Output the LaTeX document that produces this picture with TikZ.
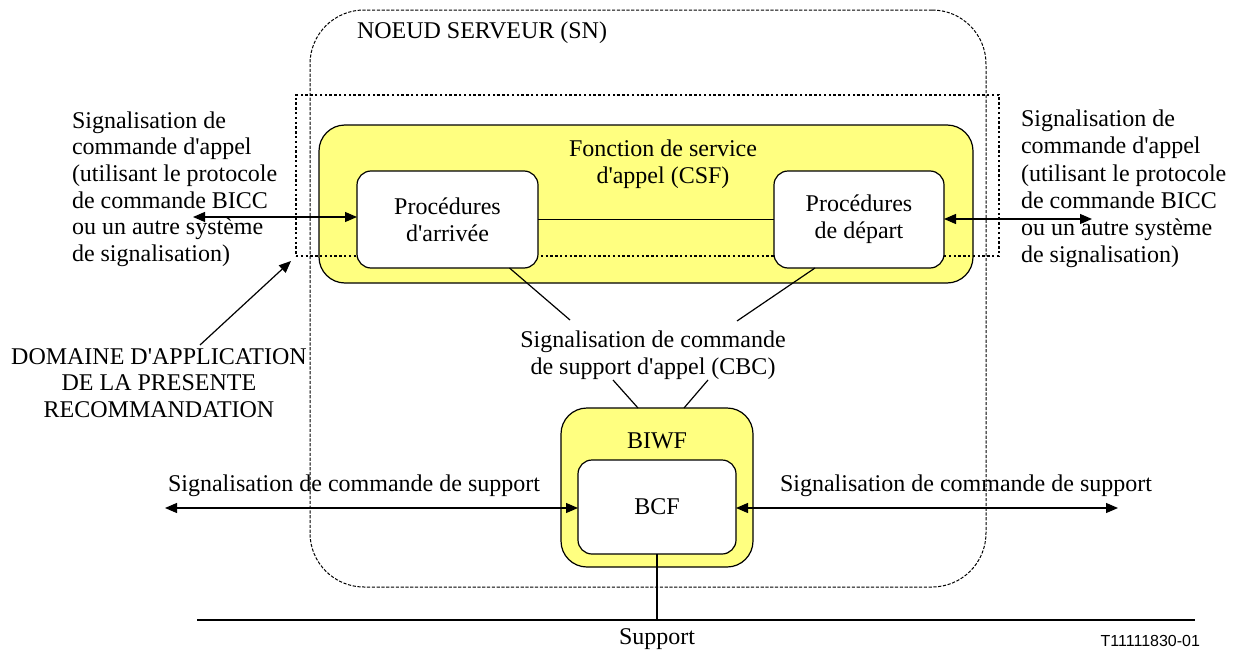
\documentclass[tikz,border=0pt]{standalone}
\usepackage{fontspec}
\setmainfont{Liberation Serif}
\newfontfamily\labelsans{Liberation Sans}
\usetikzlibrary{arrows.meta,calc}
\definecolor{boxyellow}{RGB}{255,255,128}
\newcommand{\ap}{\textquotesingle}
\tikzset{
  base/.style={inner sep=0pt,outer sep=0pt,font=\fontsize{12}{13.3}\selectfont},
  txt/.style={base,align=center},
  proc/.style={base,draw,line width=0.6pt,fill=white,rounded corners=7pt,align=center},
  func/.style={base,draw,line width=0.6pt,fill=boxyellow,rounded corners=13pt},
  servbox/.style={base,draw,line width=0.5pt,dash pattern=on 1.6pt off 0.8pt,rounded corners=27pt},
  scopebox/.style={base,draw,line width=1.4pt,dash pattern=on 1.2pt off 1.2pt},
  conn/.style={line width=0.6pt},
  arr/.style={line width=0.6pt,{Triangle[length=6pt,width=5pt]}-{Triangle[length=6pt,width=5pt]}},
  onearr/.style={line width=0.6pt,-{Triangle[length=6pt,width=5pt]}},
  thick line/.style={line width=1.4pt}
}
\begin{document}
\begin{tikzpicture}[x=0.5pt,y=-0.5pt]
\useasboundingbox (0,0) rectangle (1259,653);
% server node
\node[servbox,minimum width=338pt,minimum height=288.5pt] (sn) at (648,298.5) {};
\node[txt,anchor=west] (snlabel) at (357,33) {NOEUD SERVEUR (SN)};
% CSF
\node[func,minimum width=327pt,minimum height=79pt] (csf) at (646,204) {};
\node[txt] (csflabel) at (663,164) {Fonction de service\\d\ap appel (CSF)};
% scope box
\node[scopebox,minimum width=351.5pt,minimum height=80.5pt] (scope) at (647.5,175.5) {};
\node[proc,minimum width=90.5pt,minimum height=48.5pt] (arr) at (447.5,219.5) {Proc\'edures\\d\ap arriv\'ee};
\node[proc,minimum width=85pt,minimum height=48.5pt] (dep) at (859,219.5) {Proc\'edures\\de d\'epart};
\draw[conn] (arr.east) -- (dep.west);
% call control signalling texts
\node[txt,anchor=west,align=left] (lefttxt) at (72,189) {Signalisation de\\commande d\ap appel\\(utilisant le protocole\\de commande BICC\\ou un autre syst\`eme\\de signalisation)};
\node[txt,anchor=west,align=left,font=\fontsize{12}{13.6}\selectfont] (righttxt) at (1021,189) {Signalisation de\\commande d\ap appel\\(utilisant le protocole\\de commande BICC\\ou un autre syst\`eme\\de signalisation)};
\coordinate (la) at (193,217);
\coordinate (ra) at (1092,219);
\draw[arr] (la) -- (la -| arr.west);
\draw[arr] (dep.east |- ra) -- (ra);
% scope label
\node[txt] (dom) at (159,383) {DOMAINE D\ap APPLICATION\\DE LA PRESENTE\\RECOMMANDATION};
\coordinate (domstart) at (200,345);
\draw[onearr] (domstart) -- ($(scope.south west)+(-5,5)$);
% CBC
\node[txt] (cbc) at (653,355) {Signalisation de commande\\de support d\ap appel (CBC)};
\coordinate (c1) at (570,320);
\coordinate (c2) at (737,321);
\draw[conn] ([xshift=31pt]arr.south) -- (c1);
\draw[conn] ([xshift=-22pt]dep.south) -- (c2);
% BIWF
\node[func,minimum width=96pt,minimum height=79.5pt] (biwf) at (657,487.5) {};
\node[txt] (biwflabel) at (657,441) {BIWF};
\node[proc,minimum width=79pt,minimum height=47pt] (bcf) at (657,507) {BCF};
\coordinate (b1) at (613,380);
\coordinate (b2) at (708,380);
\draw[conn] (b1) -- ([xshift=-9.5pt]biwf.north);
\draw[conn] (b2) -- ([xshift=13.5pt]biwf.north);
% bearer control signalling
\coordinate (bl) at (165,508);
\coordinate (br) at (1118,508);
\draw[arr] (bl) -- (bl -| bcf.west);
\draw[arr] (bcf.east |- br) -- (br);
\node[txt] (bltxt) at (354,486) {Signalisation de commande de support};
\node[txt] (brtxt) at (966,486) {Signalisation de commande de support};
% bearer
\coordinate (s1) at (197,620);
\coordinate (s2) at (1195,620);
\draw[thick line] (s1) -- (s2);
\draw[thick line] (bcf.south) -- (bcf.south |- s1);
\node[txt] (suplabel) at (657,639) {Support};
\node[base,anchor=east,font=\labelsans\fontsize{8}{9}\selectfont] (ref) at (1200,641) {T11111830-01};
\end{tikzpicture}
\end{document}
